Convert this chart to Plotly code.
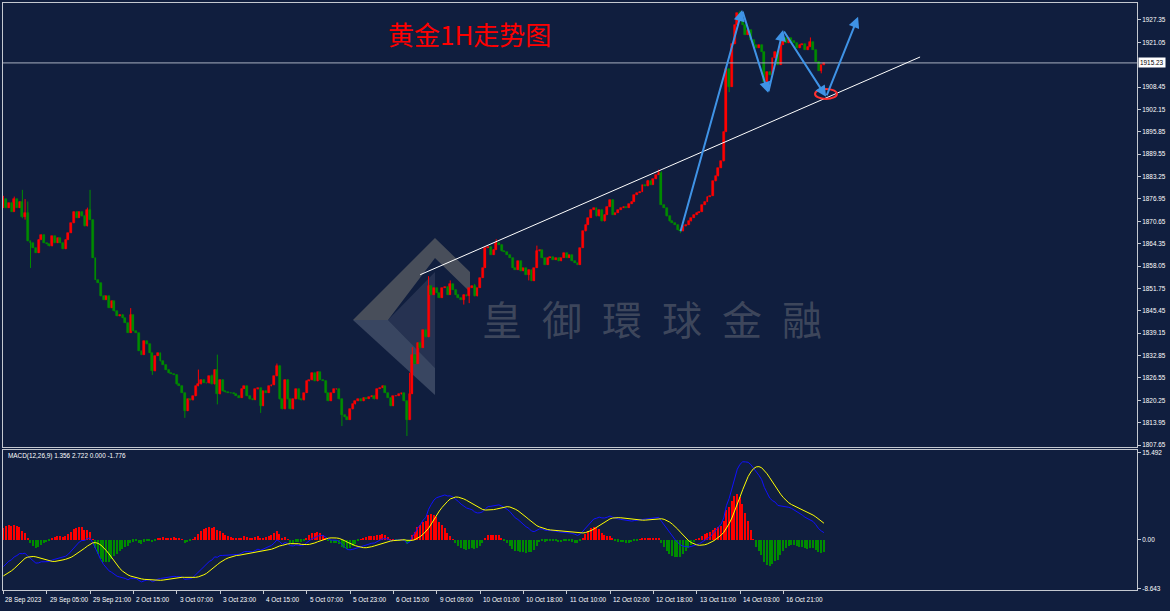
import plotly.graph_objects as go
import numpy as np

# ---------------- data ----------------
closes = [
    1876.9, 1874.4, 1875.8, 1873.4, 1876.9, 1874.4, 1876.2, 1871.8, 1873.0, 1865.0,
    1864.5, 1863.1, 1861.7, 1865.5, 1866.9, 1864.5, 1864.2, 1863.6, 1866.4, 1864.5,
    1865.9, 1864.5, 1862.8, 1865.5, 1867.3, 1870.1, 1873.4, 1871.6, 1873.4, 1872.0,
    1869.2, 1873.7, 1871.1, 1860.3, 1854.2, 1853.3, 1849.5, 1848.6, 1849.5, 1846.2,
    1848.1, 1845.3, 1843.9, 1844.4, 1843.4, 1842.0, 1839.2, 1844.4, 1839.7, 1839.2,
    1834.1, 1833.1, 1836.9, 1836.0, 1833.6, 1828.4, 1832.8, 1833.5, 1831.2, 1830.3,
    1828.9, 1828.0, 1827.7, 1827.5, 1824.7, 1824.4, 1822.3, 1817.2, 1820.5, 1820.2,
    1821.4, 1824.2, 1824.7, 1826.1, 1825.2, 1825.0, 1827.0, 1824.7, 1828.9, 1821.9,
    1826.1, 1822.8, 1822.5, 1822.3, 1822.2, 1822.0, 1821.6, 1821.0, 1823.5, 1824.2,
    1821.4, 1820.5, 1820.3, 1823.3, 1823.6, 1818.6, 1822.8, 1822.3, 1824.2, 1824.5,
    1827.0, 1830.0, 1820.5, 1817.7, 1826.1, 1820.5, 1817.7, 1820.5, 1823.3, 1820.5,
    1820.2, 1822.3, 1825.6, 1825.9, 1828.0, 1825.6, 1828.2, 1826.1, 1825.8, 1822.3,
    1820.0, 1822.3, 1823.3, 1823.5, 1820.5, 1816.0, 1815.5, 1814.8, 1817.7, 1819.1,
    1820.0, 1820.5, 1820.0, 1821.0, 1820.6, 1821.2, 1821.6, 1820.5, 1823.5, 1823.8,
    1824.2, 1822.3, 1821.0, 1818.6, 1821.4, 1821.6, 1821.9, 1822.3, 1820.0, 1814.8,
    1822.0, 1833.0, 1830.5, 1836.5, 1835.0, 1840.0, 1838.0, 1852.5,
    1850.0, 1851.9, 1850.5, 1849.1, 1851.9, 1852.2, 1850.0, 1853.0, 1851.4, 1850.0,
    1849.1, 1848.6, 1850.0, 1849.5, 1851.9, 1852.5, 1849.5, 1851.9, 1854.7, 1857.5,
    1863.1, 1863.5, 1861.2, 1862.7, 1864.5, 1864.1, 1862.2, 1862.0, 1861.2, 1860.3,
    1857.5, 1857.0, 1859.4, 1856.6, 1857.5, 1855.6, 1857.0, 1853.8, 1857.5, 1862.2,
    1862.5, 1860.3, 1858.4, 1860.3, 1860.6, 1859.8, 1860.3, 1859.4, 1860.3, 1861.7,
    1860.3, 1861.2, 1859.4, 1858.9, 1858.4,
    1863.1, 1867.8, 1869.7, 1871.6, 1873.9, 1874.4, 1872.0, 1873.9, 1870.6, 1872.5,
    1874.8, 1876.7, 1872.5, 1873.0, 1873.9, 1874.4, 1874.8, 1874.4, 1875.5, 1876.2,
    1878.1, 1878.6, 1879.0, 1880.9, 1880.5, 1881.9, 1881.0, 1882.5, 1883.7, 1884.2,
    1875.3, 1874.4, 1872.0, 1870.6, 1870.2, 1869.7, 1868.3, 1867.8, 1869.2, 1869.7,
    1870.6, 1871.6, 1872.5, 1873.0, 1873.4, 1875.3, 1876.2, 1877.6, 1877.8, 1881.9,
    1883.3, 1885.6, 1887.5, 1895.9, 1913.5, 1908.5, 1920.5, 1925.9, 1929.2, 1926.9,
    1925.9, 1923.1, 1924.5, 1921.8, 1920.3, 1919.4, 1920.3, 1918.4, 1910.0, 1912.8,
    1911.8, 1916.5, 1918.4, 1914.7, 1920.3, 1922.2, 1920.8, 1922.2, 1921.5, 1920.8,
    1919.4, 1920.3, 1920.5, 1918.9, 1919.8, 1921.2, 1918.9, 1915.6, 1913.0, 1914.6,
    1915.23,
]
first_open = 1874.4

# visible wick extremes (bar index -> price)
wick_highs = {0: 1877.8, 4: 1877.6, 7: 1879.5, 8: 1876.9, 9: 1876.2, 31: 1874.5, 32: 1879.5,
              47: 1846.2, 72: 1828.9, 77: 1827.5, 79: 1833.1, 101: 1830.6, 150: 1828.0,
              151: 1835.2, 157: 1855.2, 165: 1854.0, 174: 1853.0, 182: 1865.6, 197: 1863.8,
              238: 1882.3, 242: 1885.2, 243: 1884.7, 267: 1914.6, 272: 1929.9, 273: 1928.6,
              288: 1923.4, 298: 1922.4}
wick_lows = {7: 1871.5, 8: 1871.1, 10: 1857.5, 55: 1827.4, 67: 1815.3, 79: 1819.1, 95: 1816.7,
             125: 1813.0, 149: 1810.2, 170: 1847.2, 172: 1847.6, 194: 1854.0, 250: 1867.3,
             268: 1907.0, 282: 1908.5, 302: 1912.3}

tick_bars = [0, 16, 32, 48, 64, 80, 96, 112, 128, 144, 160, 176, 192, 208, 224, 240, 256, 272, 288]
tick_labels = ["28 Sep 2023", "29 Sep 05:00", "29 Sep 21:00", "2 Oct 15:00", "3 Oct 07:00",
               "3 Oct 23:00", "4 Oct 15:00", "5 Oct 07:00", "5 Oct 23:00", "6 Oct 15:00",
               "9 Oct 09:00", "10 Oct 01:00", "10 Oct 18:00", "11 Oct 10:00", "12 Oct 02:00",
               "12 Oct 18:00", "13 Oct 11:00", "14 Oct 03:00", "16 Oct 21:00"]
price_ticks = [1807.65, 1813.95, 1820.25, 1826.55, 1832.85, 1839.15, 1845.45, 1851.75,
               1858.05, 1864.35, 1870.65, 1876.95, 1883.25, 1889.55, 1895.85, 1902.15,
               1908.45, 1921.05, 1927.35]
last_price = 1915.23
macd_ticks = [15.492, 0.0, -8.643]
macd_label = "MACD(12,26,9) 1.356 2.722 0.000 -1.776"
title_text = "黄金1H走势图"
watermark_text = "皇\u2002御\u2002環\u2002球\u2002金\u2002融"

# MACD settings and the state carried in from before the visible window
fast_n, slow_n, signal_n = 12, 26, 9
ema_fast_seed, ema_slow_seed = 1872.5, 1878.0
macd_prehistory = -6.6
hist_scale = 1.3   # ratio of the histogram to (MACD - signal)

# drawings on the chart (bar index, price)
trend_line = [(153.9, 1855.6), (338.5, 1916.9)]
arrow_path = [(249.9, 1867.4), (272.8, 1930.1), (282.4, 1906.8), (287.9, 1924.5),
              (303.8, 1905.7), (315.6, 1928.2)]
ellipse_box = [(299.7, 1905.1), (307.8, 1907.9)]

# ---------------- derived series ----------------
n = len(closes)
idx = list(range(n))
opens = [first_open] + closes[:-1]
highs = [max(opens[i], closes[i], wick_highs.get(i, -1e9)) for i in idx]
lows = [min(opens[i], closes[i], wick_lows.get(i, 1e9)) for i in idx]


def ema(vals, period, seed):
    a = 2.0 / (period + 1)
    out, e = [], seed
    for v in vals:
        e = e + a * (v - e)
        out.append(e)
    return np.array(out)


macd = ema(closes, fast_n, ema_fast_seed) - ema(closes, slow_n, ema_slow_seed)
padded = np.concatenate([np.full(signal_n - 1, macd_prehistory), macd])
signal = np.array([padded[i:i + signal_n].mean() for i in range(n)])
hist = hist_scale * (macd - signal)

BG = "#101e3e"
UP = "#ff0000"
DN = "#008c00"

fig = go.Figure()

# wicks
for col, cond in ((UP, lambda i: closes[i] >= opens[i]), (DN, lambda i: closes[i] < opens[i])):
    wx, wy = [], []
    for i in idx:
        if cond(i):
            wx += [i, i, None]
            wy += [lows[i], highs[i], None]
    fig.add_trace(go.Scatter(x=wx, y=wy, mode="lines", line=dict(color=col, width=1),
                             hoverinfo="skip", showlegend=False, xaxis="x", yaxis="y"))

# bodies
for col, up in ((UP, True), (DN, False)):
    bx = [i for i in idx if (closes[i] >= opens[i]) == up]
    base = [min(opens[i], closes[i]) for i in bx]
    h = [abs(closes[i] - opens[i]) for i in bx]
    fig.add_trace(go.Bar(x=bx, y=h, base=base, width=0.72, marker=dict(color=col, line=dict(color=col, width=0.6)),
                         showlegend=False, xaxis="x", yaxis="y"))

# MACD histogram and lines (blue = MACD, yellow = signal)
hcol = [UP if v >= 0 else DN for v in hist]
fig.add_trace(go.Bar(x=idx, y=hist, width=0.55, marker=dict(color=hcol, line=dict(width=0)),
                     showlegend=False, xaxis="x2", yaxis="y2"))
fig.add_trace(go.Scatter(x=idx, y=macd, mode="lines", line=dict(color="#1010ff", width=1),
                         showlegend=False, xaxis="x2", yaxis="y2"))
fig.add_trace(go.Scatter(x=idx, y=signal, mode="lines", line=dict(color="#ffff00", width=1),
                         showlegend=False, xaxis="x2", yaxis="y2"))

# ---------------- layout ----------------
W, H = 1170, 611
ML, MR, MT, MB = 3, 33, 3, 21
PW, PH = W - ML - MR, H - MT - MB


def px(x):
    return (x - ML) / PW


def py(y):
    return 1 - (y - MT) / PH


xr = [-0.15, 418.6]
frame = "#c4c8d0"
small = dict(family="Liberation Sans, Arial", size=6.4, color="#ffffff")

shapes = []
annotations = []

# current price line
shapes.append(dict(type="line", xref="paper", yref="y", x0=0, x1=1.0, y0=last_price, y1=last_price,
                   line=dict(color="#aab0c0", width=1)))
# trend line
shapes.append(dict(type="line", xref="x", yref="y", x0=trend_line[0][0], y0=trend_line[0][1],
                   x1=trend_line[1][0], y1=trend_line[1][1], line=dict(color="#ffffff", width=1)))
# red ellipse
shapes.append(dict(type="circle", xref="x", yref="y", x0=ellipse_box[0][0], y0=ellipse_box[0][1],
                   x1=ellipse_box[1][0], y1=ellipse_box[1][1], line=dict(color="#ff3030", width=2)))

# blue arrows
for (x0, y0), (x1, y1) in zip(arrow_path[:-1], arrow_path[1:]):
    annotations.append(dict(x=x1, y=y1, ax=x0, ay=y0, xref="x", yref="y", axref="x", ayref="y",
                            showarrow=True, arrowhead=2, arrowsize=1.1, arrowwidth=2,
                            arrowcolor="#3f93e6", text=""))


# watermark logo (drawn in pixel space)
def poly(points, color):
    d = "M " + " L ".join(f"{px(a):.5f},{py(b):.5f}" for a, b in points) + " Z"
    shapes.append(dict(type="path", xref="paper", yref="paper", path=d, fillcolor=color,
                       line=dict(width=0), layer="below"))


poly([(353, 320), (435, 238), (470, 272), (470, 292), (435, 258), (388, 320)], "rgba(110,110,110,0.6)")
poly([(353, 320), (388, 320), (435, 368), (435, 395)], "rgba(120,130,150,0.40)")
poly([(388, 320), (435, 272), (435, 368)], "rgba(90,100,125,0.30)")
annotations.append(dict(x=px(652), y=py(318), xref="paper", yref="paper", showarrow=False,
                        xanchor="center", yanchor="middle", text=watermark_text,
                        font=dict(family="Noto Sans CJK TC", size=40, color="rgba(120,122,130,0.45)")))

# title
annotations.append(dict(x=px(469), y=py(33), xref="paper", yref="paper", showarrow=False,
                        xanchor="center", yanchor="middle",
                        text=title_text, font=dict(family="Noto Sans CJK SC", size=26, color="#ff0000")))

# price box
annotations.append(dict(x=1.0, y=last_price, xref="paper", yref="y", xanchor="left", xshift=1,
                        showarrow=False, text=str(last_price), bgcolor="#ffffff", borderpad=1,
                        font=dict(family="Liberation Sans, Arial", size=6.4, color="#000000")))

# macd label
annotations.append(dict(x=px(6), y=py(450), xref="paper", yref="paper", xanchor="left", yanchor="top",
                        showarrow=False, text=macd_label, font=small))

# x tick labels (left aligned to tick)
for b, t in zip(tick_bars, tick_labels):
    annotations.append(dict(x=b, y=0, xref="x2", yref="paper", xanchor="left", yanchor="top",
                            yshift=-4, xshift=1 if b else 0, showarrow=False, text=t, font=small))

main_dom = [py(447), 1]
macd_dom = [0, py(450)]

fig.update_layout(
    width=W, height=H, margin=dict(l=ML, r=MR, t=MT, b=MB),
    paper_bgcolor=BG, plot_bgcolor=BG, showlegend=False, bargap=0, barmode="overlay",
    xaxis=dict(domain=[0, 1], anchor="y", range=xr, showgrid=False, zeroline=False,
               showticklabels=False, showline=True, mirror=True, linecolor=frame, linewidth=1),
    yaxis=dict(domain=main_dom, anchor="x", range=[1807.1, 1932.1], side="right",
               tickvals=price_ticks, ticktext=[f"{v:.2f}" for v in price_ticks],
               ticks="outside", ticklen=3, tickcolor=frame, tickfont=small,
               showgrid=False, zeroline=False, showline=True, mirror=True, linecolor=frame, linewidth=1),
    xaxis2=dict(domain=[0, 1], anchor="y2", range=xr, matches="x", showgrid=False, zeroline=False,
                showticklabels=False, tickvals=tick_bars, ticks="outside", ticklen=3, tickcolor=frame,
                showline=True, mirror=True, linecolor=frame, linewidth=1),
    yaxis2=dict(domain=macd_dom, anchor="x2", range=[-8.9, 16.0], side="right",
                tickvals=macd_ticks, ticktext=["15.492", "0.00", "-8.643"],
                ticks="outside", ticklen=3, tickcolor=frame, tickfont=small,
                showgrid=False, zeroline=False, showline=True, mirror=True, linecolor=frame, linewidth=1),
    shapes=shapes, annotations=annotations,
)

fig.write_html("out.html")
